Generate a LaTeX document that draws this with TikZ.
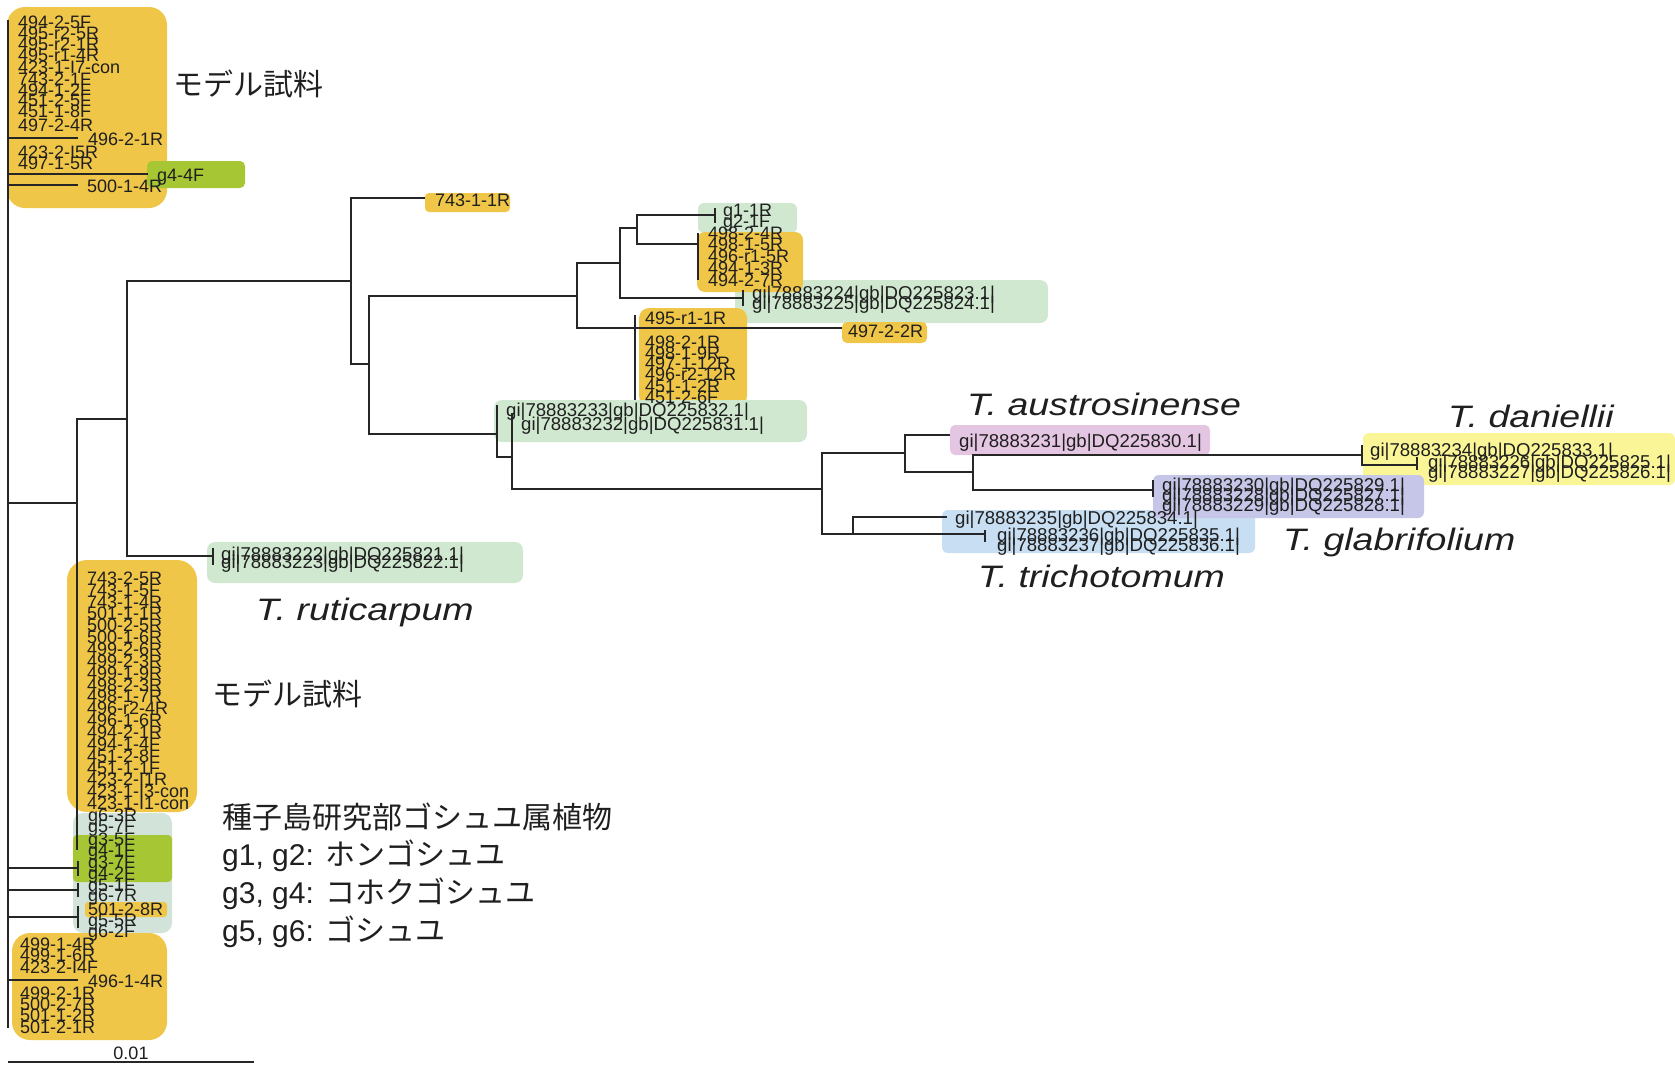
\documentclass[tikz,border=0pt]{standalone}
\usepackage{fontspec}
\usepackage{graphicx}
\setmainfont{Liberation Sans}
\newfontfamily\jpfont{Noto Sans CJK JP}
\definecolor{yel}{RGB}{240,198,72}
\definecolor{lgreen}{RGB}{208,232,208}
\definecolor{ggray}{RGB}{210,228,218}
\definecolor{ygreen}{RGB}{166,198,52}
\definecolor{pinkb}{RGB}{228,198,226}
\definecolor{lav}{RGB}{198,198,232}
\definecolor{lblue}{RGB}{200,222,242}
\definecolor{lyel}{RGB}{250,245,150}
\tikzset{
 br/.style={line width=2bp, draw=black!85},
 lf/.style={anchor=west, inner sep=0pt, text height=12.9bp, text depth=0bp, font=\fontsize{18bp}{18bp}\selectfont, text=black!88},
 gi/.style={lf, font=\fontsize{18.6bp}{18.6bp}\selectfont},
 sp/.style={anchor=base west, inner sep=0pt, font=\fontsize{31bp}{31bp}\selectfont\itshape, text=black!88},
 jp/.style={anchor=west, inner sep=0pt, font=\fontsize{30bp}{30bp}\selectfont, text=black!88},
}
\newcommand{\spn}[1]{\scalebox{1.21}[1]{#1}}
\begin{document}
\begin{tikzpicture}[x=1bp,y=-1bp]
\useasboundingbox (0,0) rectangle (1675,1065);
% ---------- background boxes ----------
\fill[yel, rounded corners=18bp] (7,7) rectangle (167,208);
\fill[ygreen, rounded corners=5bp] (147,161) rectangle (245,188);
\fill[yel, rounded corners=4bp] (425,193) rectangle (510,212);
\fill[lgreen, rounded corners=6bp] (698,203) rectangle (797,233);
\fill[lgreen, rounded corners=8bp] (735,280) rectangle (1048,323);
\fill[yel, rounded corners=8bp] (697,232) rectangle (803,292);
\fill[yel, rounded corners=10bp] (639,308) rectangle (747,406);
\fill[yel, rounded corners=5bp] (842,322) rectangle (927,343);
\fill[lgreen, rounded corners=8bp] (494,400) rectangle (807,442);
\fill[pinkb, rounded corners=5bp] (950,425) rectangle (1210,455);
\fill[lyel, rounded corners=6bp] (1363,433) rectangle (1675,485);
\fill[lblue, rounded corners=6bp] (942,510) rectangle (1255,553);
\fill[lav, rounded corners=6bp] (1153,475) rectangle (1424,518);
\fill[lgreen, rounded corners=8bp] (207,542) rectangle (523,583);
\fill[yel, rounded corners=20bp] (67,560) rectangle (197,812);
\fill[ggray, rounded corners=10bp] (73,813) rectangle (172,933);
\fill[ygreen, rounded corners=4bp] (73,835) rectangle (172,882);
\fill[yel, rounded corners=3bp] (85,902) rectangle (167,917);
\fill[yel, rounded corners=18bp] (12,933) rectangle (167,1040);
% ---------- tree coordinates ----------
\coordinate (rtop) at (8,20);
\coordinate (rbot) at (8,1028);
\coordinate (root) at (8,503);
\coordinate (e4962) at (78,138);
\coordinate (eg44) at (148,174);
\coordinate (e5001) at (78,185);
\coordinate (A) at (77,503);
\coordinate (Atop) at (77,419);
\coordinate (Abot) at (77,850);
\coordinate (t1) at (78,868);
\coordinate (t2) at (78,890);
\coordinate (t3) at (78,917);
\coordinate (e4961) at (78,980);
\coordinate (B) at (127,419);
\coordinate (T22) at (213,556);
\coordinate (C) at (351,281);
\coordinate (e743) at (425,198);
\coordinate (D) at (369,364);
\coordinate (E) at (577,296);
\coordinate (I) at (620,263);
\coordinate (K) at (637,228);
\coordinate (Tg1) at (715,215);
\coordinate (Tyl) at (698,244);
\coordinate (T24) at (743,298);
\coordinate (J) at (635,328);
\coordinate (Jtop) at (635,315);
\coordinate (Jbot) at (635,400);
\coordinate (e4972) at (842,328);
\coordinate (F) at (497,434);
\coordinate (Ftop) at (497,405);
\coordinate (G) at (512,457);
\coordinate (Gtop) at (512,413);
\coordinate (Gbot) at (512,489);
\coordinate (H) at (822,489);
\coordinate (L) at (905,453);
\coordinate (e231) at (950,435);
\coordinate (M) at (973,472);
\coordinate (N) at (1362,455);
\coordinate (Ntop) at (1362,445);
\coordinate (T226) at (1417,465);
\coordinate (T230) at (1153,490);
\coordinate (O) at (853,534);
\coordinate (e235) at (947,517);
\coordinate (T236) at (985,534);
% ---------- branches ----------
\draw[br] (rtop) -- (rbot);
\draw[br] (root) |- (e4962);
\draw[br] (root) |- (eg44);
\draw[br] (root) |- (e5001);
\draw[br] (root) -- (A);
\draw[br] (root) |- (t1);
\draw[br] (root) |- (t2);
\draw[br] (root) |- (t3);
\draw[br] (root) |- (e4961);
\draw[br] (Atop) -- (Abot);
\draw[br] (A) |- (B);
\draw[br] (B) |- (C);
\draw[br] (B) |- (T22);
\draw[br] (C) |- (e743);
\draw[br] (C) |- (D);
\draw[br] (D) |- (E);
\draw[br] (D) |- (F);
\draw[br] (E) |- (I);
\draw[br] (E) |- (J);
\draw[br] (I) |- (K);
\draw[br] (I) |- (T24);
\draw[br] (K) |- (Tg1);
\draw[br] (K) |- (Tyl);
\draw[br] (Jtop) -- (Jbot);
\draw[br] (J) -- (e4972);
\draw[br] (Ftop) -- (F);
\draw[br] (F) |- (G);
\draw[br] (Gtop) -- (Gbot);
\draw[br] (G) |- (H);
\draw[br] (H) |- (L);
\draw[br] (H) |- (O);
\draw[br] (L) |- (e231);
\draw[br] (L) |- (M);
\draw[br] (M) |- (N);
\draw[br] (M) |- (T230);
\draw[br] (Ntop) -- (N);
\draw[br] (N) |- (T226);
\draw[br] (O) |- (e235);
\draw[br] (O) |- (T236);
% ticks of zero-length pairs
\draw[br] (T22) ++(0,-8) -- ++(0,17);
\draw[br] (T24) ++(0,-8) -- ++(0,16);
\draw[br] (Tg1) ++(0,-7) -- ++(0,15);
\draw[br] (Tyl) ++(0,-11) -- ++(0,47);
\draw[br] (T230) ++(0,-10) -- ++(0,17);
\draw[br] (T226) ++(0,-8) -- ++(0,13);
\draw[br] (T236) ++(0,-4) -- ++(0,12);
\draw[br] (t1) ++(0,-7) -- ++(0,15);
\draw[br] (t2) ++(0,-7) -- ++(0,14);
\draw[br] (t3) ++(0,-11) -- ++(0,22);
% ---------- leaf labels: top cluster ----------
\node[lf] (a1) at (18,22) {494-2-5F};
\node[lf] (a2) at (18,33) {495-r2-5R};
\node[lf] (a3) at (18,44) {495-r2-1R};
\node[lf] (a4) at (18,55) {495-r1-4R};
\node[lf] (a5) at (18,67) {423-1-I7-con};
\node[lf] (a6) at (18,79) {743-2-1F};
\node[lf] (a7) at (18,90) {494-1-2F};
\node[lf] (a8) at (18,100) {451-2-5F};
\node[lf] (a9) at (18,111) {451-1-8F};
\node[lf] (a10) at (18,125) {497-2-4R};
\node[lf] (a11) at (88,139) {496-2-1R};
\node[lf] (a12) at (18,152) {423-2-I5R};
\node[lf] (a13) at (18,163) {497-1-5R};
\node[lf] (a14) at (157,175) {g4-4F};
\node[lf] (a15) at (87,186) {500-1-4R};
% ---------- middle clades ----------
\node[lf] (b1) at (435,200) {743-1-1R};
\node[lf] (b2) at (723,210) {g1-1R};
\node[lf] (b3) at (723,221) {g2-1F};
\node[lf] (b4) at (708,233) {498-2-4R};
\node[lf] (b5) at (708,244) {498-1-5R};
\node[lf] (b6) at (708,256) {496-r1-5R};
\node[lf] (b7) at (708,268) {494-1-3R};
\node[lf] (b8) at (708,280) {494-2-7R};
\node[gi] (b9) at (752,293) {gi|78883224|gb|DQ225823.1|};
\node[gi] (b10) at (752,303) {gi|78883225|gb|DQ225824.1|};
\node[lf] (c1) at (645,318) {495-r1-1R};
\node[lf] (c2) at (848,331) {497-2-2R};
\node[lf] (c3) at (645,342) {498-2-1R};
\node[lf] (c4) at (645,353) {498-1-9R};
\node[lf] (c5) at (645,363) {497-1-12R};
\node[lf] (c6) at (645,374) {496-r2-12R};
\node[lf] (c7) at (645,386) {451-1-2R};
\node[lf] (c8) at (645,397) {451-2-6F};
\node[gi] (d1) at (506,410) {gi|78883233|gb|DQ225832.1|};
\node[gi] (d2) at (521,424) {gi|78883232|gb|DQ225831.1|};
\node[gi] (d3) at (959,441) {gi|78883231|gb|DQ225830.1|};
\node[gi] (d4) at (1370,450) {gi|78883234|gb|DQ225833.1|};
\node[gi] (d5) at (1428,462) {gi|78883226|gb|DQ225825.1|};
\node[gi] (d6) at (1428,472) {gi|78883227|gb|DQ225826.1|};
\node[gi] (d7) at (1162,485) {gi|78883230|gb|DQ225829.1|};
\node[gi] (d8) at (1162,495) {gi|78883228|gb|DQ225827.1|};
\node[gi] (d9) at (1162,505) {gi|78883229|gb|DQ225828.1|};
\node[gi] (d10) at (955,518) {gi|78883235|gb|DQ225834.1|};
\node[gi] (d11) at (997,535) {gi|78883236|gb|DQ225835.1|};
\node[gi] (d12) at (997,545) {gi|78883237|gb|DQ225836.1|};
\node[gi] (d13) at (221,554) {gi|78883222|gb|DQ225821.1|};
\node[gi] (d14) at (221,562) {gi|78883223|gb|DQ225822.1|};
% ---------- lower cluster ----------
\node[lf] (f1) at (87,578) {743-2-5R};
\node[lf] (f2) at (87,590) {743-1-5F};
\node[lf] (f3) at (87,602) {743-1-4R};
\node[lf] (f4) at (87,613) {501-1-1R};
\node[lf] (f5) at (87,625) {500-2-5R};
\node[lf] (f6) at (87,637) {500-1-6R};
\node[lf] (f7) at (87,649) {499-2-6R};
\node[lf] (f8) at (87,661) {499-2-3R};
\node[lf] (f9) at (87,673) {499-1-9R};
\node[lf] (f10) at (87,685) {498-2-3R};
\node[lf] (f11) at (87,696) {498-1-7R};
\node[lf] (f12) at (87,708) {496-r2-4R};
\node[lf] (f13) at (87,720) {496-1-6R};
\node[lf] (f14) at (87,732) {494-2-1R};
\node[lf] (f15) at (87,744) {494-1-4F};
\node[lf] (f16) at (87,756) {451-2-8F};
\node[lf] (f17) at (87,768) {451-1-1F};
\node[lf] (f18) at (87,779) {423-2-I1R};
\node[lf] (f19) at (87,791) {423-1-I3-con};
\node[lf] (f20) at (87,803) {423-1-I1-con};
\node[lf] (g1) at (88,815) {g6-3R};
\node[lf] (g2) at (88,826) {g5-7F};
\node[lf] (g3) at (88,839) {g3-5F};
\node[lf] (g4) at (88,850) {g4-1F};
\node[lf] (g5) at (88,862) {g3-7F};
\node[lf] (g6) at (88,873) {g4-2F};
\node[lf] (g7) at (88,885) {g5-1F};
\node[lf] (g8) at (88,895) {g6-7R};
\node[lf] (g9) at (88,909) {501-2-8R};
\node[lf] (g10) at (88,920) {g5-5R};
\node[lf] (g11) at (88,931) {g6-2F};
\node[lf] (h1) at (20,944) {499-1-4R};
\node[lf] (h2) at (20,955) {499-1-6R};
\node[lf] (h3) at (20,967) {423-2-I4F};
\node[lf] (h4) at (88,981) {496-1-4R};
\node[lf] (h5) at (20,993) {499-2-1R};
\node[lf] (h6) at (20,1004) {500-2-7R};
\node[lf] (h7) at (20,1015) {501-1-2R};
\node[lf] (h8) at (20,1027) {501-2-1R};
% ---------- species names ----------
\node[sp] (s1) at (967,415) {\spn{T. austrosinense}};
\node[sp] (s2) at (1448,427) {\spn{T. daniellii}};
\node[sp] (s3) at (1283,550) {\spn{T. glabrifolium}};
\node[sp] (s4) at (978,587) {\spn{T. trichotomum}};
\node[sp] (s5) at (256,620) {\spn{T. ruticarpum}};
% ---------- Japanese labels ----------
\node[jp] (j1) at (173,84) {\jpfont モデル試料};
\node[jp] (j2) at (212,694) {\jpfont モデル試料};
\node[jp] (j3) at (222,817) {\jpfont 種子島研究部ゴシュユ属植物};
\node[jp] (j4) at (222,856) {g1, g2: {\jpfont ホンゴシュユ}};
\node[jp] (j5) at (222,894) {g3, g4: {\jpfont コホクゴシュユ}};
\node[jp] (j6) at (222,932) {g5, g6: {\jpfont ゴシュユ}};
% ---------- scale bar ----------
\coordinate (sb1) at (8,1062);
\coordinate (sb2) at (254,1062);
\draw[br] (sb1) -- (sb2);
\node[lf, anchor=center] (sbl) at (131,1053) {0.01};
\end{tikzpicture}
\end{document}
